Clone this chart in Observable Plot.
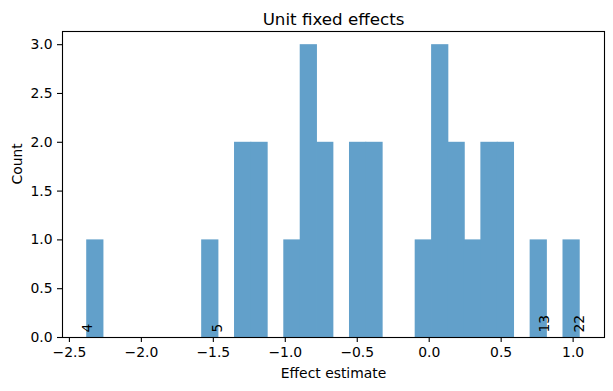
<!DOCTYPE html>
<html>
<head>
<meta charset="utf-8">
<script src="https://cdn.jsdelivr.net/npm/d3@7"></script>
<script src="https://cdn.jsdelivr.net/npm/@observablehq/plot@0.6"></script>
<style>
  html, body { margin: 0; padding: 0; background: #fff; }
  #chart svg { display: block; }
</style>
</head>
<body>
<div id="chart"></div>
<script>
// Histogram of unit fixed effects: 30 equal bins between the min and max estimate
const binMin = -2.377;
const binMax = 1.0465;
const binCounts = [1,0,0,0,0,0,0,1,0,2,2,0,1,3,2,0,2,2,0,0,1,3,2,1,2,2,0,1,0,1];

// Annotated units (label, estimate)
const unitLabels = ["4", "5", "13", "22"];
const unitEstimates = [-2.377, -1.468, 0.804, 1.0465];

const xTicks = [-2.5, -2.0, -1.5, -1.0, -0.5, 0.0, 0.5, 1.0];
const yTicks = [0, 0.5, 1.0, 1.5, 2.0, 2.5, 3.0];

const titleText = "Unit fixed effects";
const xLabel = "Effect estimate";
const yLabel = "Count";

const nBins = binCounts.length;
const binWidth = (binMax - binMin) / nBins;
const bins = binCounts.map((c, i) => ({
  x1: binMin + i * binWidth,
  x2: binMin + (i + 1) * binWidth,
  count: c
})).filter(d => d.count > 0);

const units = unitLabels.map((l, i) => ({label: l, x: unitEstimates[i]}));

const font = "DejaVu Sans, sans-serif";

const chart = Plot.plot({
  width: 613,
  height: 391,
  marginLeft: 62,
  marginRight: 9,
  marginTop: 31,
  marginBottom: 54,
  style: {fontFamily: font, fontSize: "13.9px", color: "black", background: "white"},
  x: {domain: [-2.548, 1.218]},
  y: {domain: [0, 3.135]},
  marks: [
    Plot.rectY(bins, {x1: "x1", x2: "x2", y: "count", fill: "#62a0ca", insetLeft: -0.4, insetRight: -0.4}),
    Plot.text(units, {x: "x", y: 0.05, text: "label", rotate: -90, textAnchor: "start", fill: "black", fontSize: 13.9}),
    Plot.axisX(xTicks, {tickSize: 5, tickPadding: 5, tickFormat: d3.format(".1f"), label: null, fontSize: 13.9, strokeWidth: 1.1}),
    Plot.axisY(yTicks, {tickSize: 5, tickPadding: 5, tickFormat: d3.format(".1f"), label: null, fontSize: 13.9, strokeWidth: 1.1}),
    Plot.frame({stroke: "black", strokeWidth: 1.1}),
    Plot.text([titleText], {frameAnchor: "top", dy: -18, fontSize: 16.7, fill: "black"}),
    Plot.text([xLabel], {frameAnchor: "bottom", dy: 40, fontSize: 13.9, fill: "black"}),
    Plot.text([yLabel], {frameAnchor: "left", dx: -45, rotate: -90, fontSize: 13.9, fill: "black"})
  ]
});

document.getElementById("chart").appendChild(chart);
</script>
</body>
</html>
